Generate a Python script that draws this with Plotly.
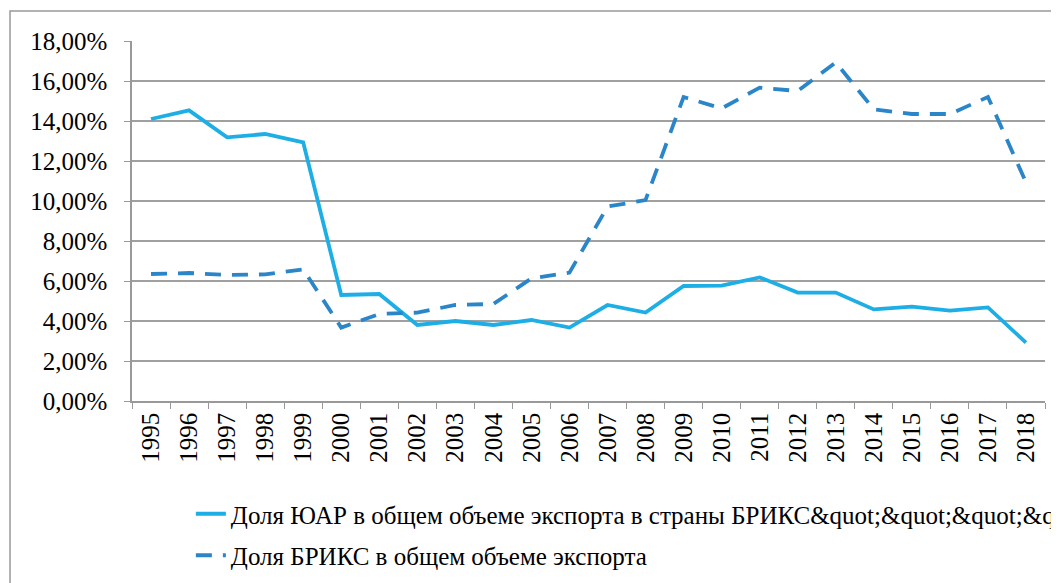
import plotly.graph_objects as go

years = [str(y) for y in range(1995, 2019)]
saf_share = [14.10, 14.53, 13.18, 13.35, 12.93, 5.30, 5.35, 3.80, 4.00, 3.80, 4.05, 3.67,
             4.80, 4.42, 5.75, 5.77, 6.18, 5.42, 5.42, 4.58, 4.72, 4.52, 4.68, 2.92]
brics_share = [6.35, 6.40, 6.30, 6.33, 6.58, 3.67, 4.35, 4.42, 4.80, 4.85, 6.13, 6.42,
               9.72, 10.05, 15.20, 14.63, 15.67, 15.50, 16.93, 14.58, 14.35, 14.35, 15.20, 10.93]
y_ticks = [0, 2, 4, 6, 8, 10, 12, 14, 16, 18]
y_tick_labels = ["%d,00%%" % v for v in y_ticks]
name1 = "Доля ЮАР в общем объеме экспорта в страны БРИКС" + "&quot;" * 8
name2 = "Доля БРИКС в общем объеме экспорта"

fig = go.Figure()
fig.add_trace(go.Scatter(x=years, y=saf_share, mode="lines", name=name1,
                         legendgroup="a",
                         line=dict(color="#1DAEE6", width=3.8)))
fig.add_trace(go.Scatter(x=years, y=brics_share, mode="lines", name=name2,
                         legendgroup="b",
                         line=dict(color="#2A86C8", width=3.8, dash="16px,11px")))

fig.update_layout(
    template="none",
    width=1051, height=575,
    margin=dict(l=124, r=14, t=33, b=182, autoexpand=False),
    paper_bgcolor="white", plot_bgcolor="white",
    font=dict(family="Liberation Serif", size=25, color="#000000"),
    showlegend=True,
    legend=dict(xref="container", yref="container", x=0.174, y=0.16,
                xanchor="left", yanchor="top",
                orientation="v", traceorder="grouped", tracegroupgap=6,
                bgcolor="rgba(0,0,0,0)"),
    xaxis=dict(type="category", range=[-0.5, 23.5], showgrid=False,
               tickangle=-90, tickson="boundaries", ticks="outside", ticklen=6,
               tickcolor="#999999", showline=True, linecolor="#999999", linewidth=1.5,
               fixedrange=True),
    yaxis=dict(range=[0, 18], tickvals=y_ticks, ticktext=y_tick_labels,
               showgrid=True, gridcolor="#A0A0A0", gridwidth=1.5,
               ticks="outside", ticklen=6, tickcolor="#999999", ticklabelstandoff=12,
               showline=True, linecolor="#999999", linewidth=1.5,
               zeroline=False, fixedrange=True),
    shapes=[dict(type="rect", xref="paper", yref="paper",
                 x0=-0.1336, x1=1.03, y0=-0.6, y1=1.0833,
                 line=dict(color="#999999", width=1.5), fillcolor="rgba(0,0,0,0)",
                 layer="below")],
)

fig.write_html("out.html")
